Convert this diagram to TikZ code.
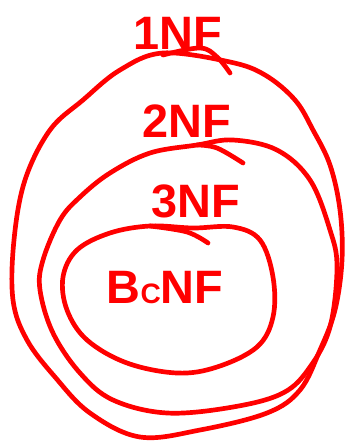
\documentclass[tikz,border=0pt]{standalone}
\usepackage{fontspec}
\setsansfont{Liberation Sans}

\begin{document}
\begin{tikzpicture}[x=0.3mm,y=-0.3mm,
  pen/.style={red, line width=4pt, line cap=round, line join=round},
  nflabel/.style={red, font=\sffamily\bfseries\fontsize{40}{40}\selectfont, inner sep=0pt}]

\useasboundingbox (0,0) rectangle (346,447);

% Outer curve (1NF)
\draw[pen] plot[smooth cycle, tension=0.6] coordinates {
  (163,53) (230,62) (265,75) (295,100) (313,130) (330,165) (340,210)
  (342,260) (335,310) (320,350) (300,390) (267,413) (200,430) (140,437)
  (90,413) (55,377) (27,340) (13,300) (14,240) (25,180) (50,130)
  (83,100) (120,70)};
% overshoot at the top
\draw[pen] plot[smooth, tension=0.6] coordinates {(163,55) (200,48) (217,57) (230,73)};

% Middle curve (2NF)
\draw[pen] plot[smooth cycle, tension=0.6] coordinates {
  (197,145) (233,140) (277,150) (310,180) (330,230) (337,267) (330,327)
  (310,367) (283,393) (233,407) (167,413) (113,400) (80,373) (53,333)
  (40,290) (43,260) (60,220) (80,197) (110,173) (150,153)};
% overshoot at the top
\draw[pen] plot[smooth, tension=0.6] coordinates {(197,145) (217,148) (243,163)};

% Inner curve (BCNF)
\draw[pen] plot[smooth cycle, tension=0.6] coordinates {
  (193,228) (233,227) (260,240) (273,277) (273,317) (257,347) (217,367)
  (177,373) (127,363) (87,340) (67,310) (63,277) (77,250) (110,233)
  (150,226)};
% overshoot at the top
\draw[pen] plot[smooth, tension=0.6] coordinates {(150,226) (187,232) (208,243)};

% Labels
\node[nflabel] (one) at (178,33) {1NF};
\node[nflabel] (two) at (187,121) {2NF};
\node[nflabel] (three) at (196,201) {3NF};
\node[nflabel] (bcnf) at (165,288) {B{\fontsize{24}{24}\selectfont C}NF};

\end{tikzpicture}
\end{document}
